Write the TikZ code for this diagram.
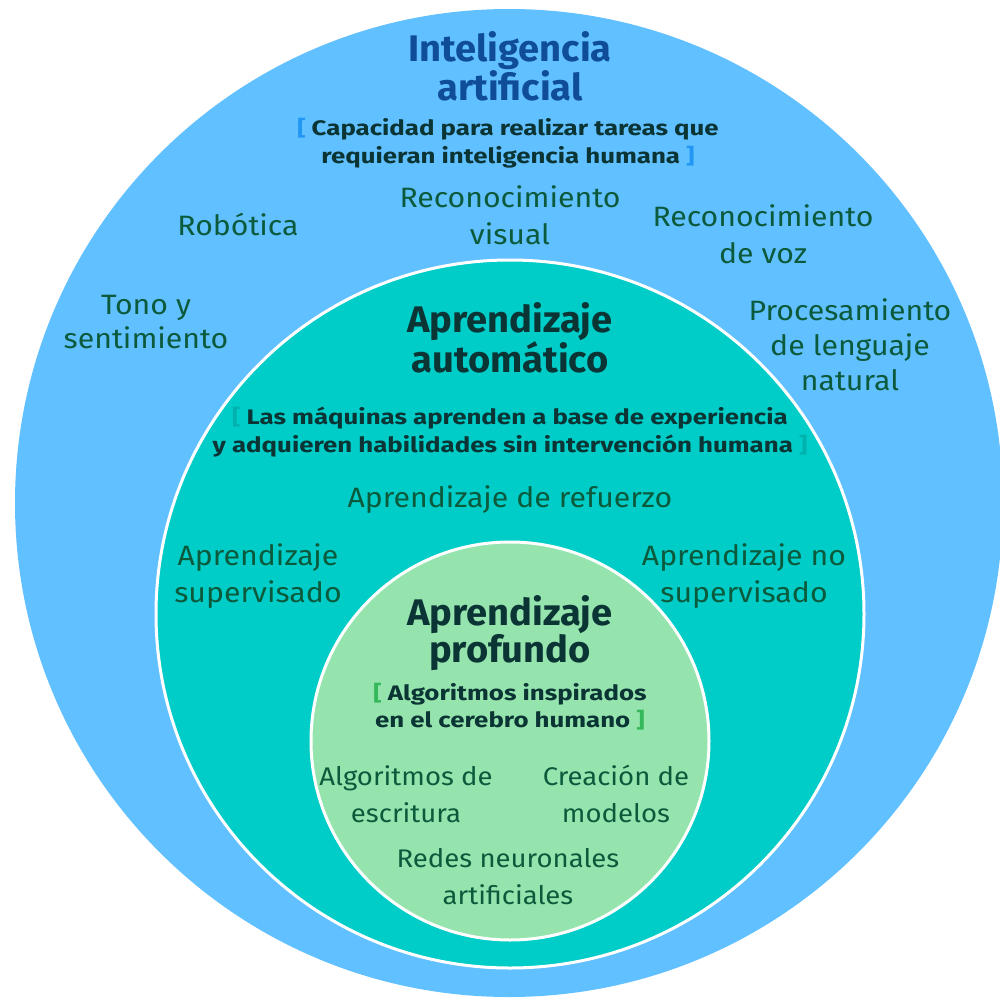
\documentclass[tikz,border=0pt]{standalone}
\usepackage{fontspec}
\setmainfont{Fira Sans}[FakeStretch=1.08]
\newfontfamily\headfont{Fira Sans Bold}[FakeStretch=1.03]
\newfontfamily\subfont{Fira Sans Bold}[FakeStretch=1.23]
\definecolor{outerblue}{HTML}{61C0FF}
\definecolor{midteal}{HTML}{00CCC8}
\definecolor{innergreen}{HTML}{95E4AE}
\definecolor{iablue}{HTML}{0F4C9A}
\definecolor{darktxt}{HTML}{0B3434}
\definecolor{greentxt}{HTML}{0C5A3C}
\definecolor{brblue}{HTML}{2196F3}
\definecolor{brteal}{HTML}{00B2AE}
\definecolor{brgreen}{HTML}{34B85A}
\tikzset{
  plain/.style={align=center, text=greentxt, inner sep=0pt, font=\fontsize{28}{37}\selectfont},
  small/.style={plain, font=\fontsize{25.5}{37}\selectfont},
  head/.style={align=center, inner sep=0pt, font=\headfont\fontsize{37}{37}\selectfont},
  sub/.style={align=center, text=darktxt, inner sep=0pt, font=\subfont\fontsize{21}{28}\selectfont}
}
\begin{document}
\begin{tikzpicture}[x=1pt,y=-1pt]
\useasboundingbox (0,0) rectangle (1000,1004);
\fill[white] (0,0) rectangle (1000,1004);
\fill[outerblue] (509,503) circle (494);
\draw[white, line width=3, fill=midteal] (510,614) circle (354);
\draw[white, line width=3, fill=innergreen] (510,741) circle (199);

% Outer circle
\node[head, text=iablue] (ia) at (510,66) {Inteligencia\\artificial};
\node[sub] (iasub) at (508,143) {\textcolor{brblue}{[} Capacidad para realizar tareas que\\requieran inteligencia humana \textcolor{brblue}{]}};
\node[plain] (rob) at (238,224) {Robótica};
\node[plain] (recvis) at (510,215) {Reconocimiento\\visual};
\node[plain] (recvoz) at (763,234) {Reconocimiento\\de voz};
\node[plain, font=\fontsize{28}{34}\selectfont] (tono) at (146,322) {Tono y\\sentimiento};
\node[plain, font=\fontsize{28}{35}\selectfont] (pln) at (850,345) {Procesamiento\\de lenguaje\\natural};

% Middle circle
\node[head, text=darktxt] (aa) at (510,338) {Aprendizaje\\automático};
\node[sub] (aasub) at (510,432) {\textcolor{brteal}{[} Las máquinas aprenden a base de experiencia\\y adquieren habilidades sin intervención humana \textcolor{brteal}{]}};
\node[plain] (ref) at (510,500) {Aprendizaje de refuerzo};
\node[plain] (sup) at (258,576) {Aprendizaje\\supervisado};
\node[plain] (nosup) at (744,576) {Aprendizaje no\\supervisado};

% Inner circle
\node[head, text=darktxt] (ap) at (510,633) {Aprendizaje\\profundo};
\node[sub, font=\subfont\fontsize{21}{27}\selectfont] (apsub) at (510,707) {\textcolor{brgreen}{[} Algoritmos inspirados\\en el cerebro humano \textcolor{brgreen}{]}};
\node[small] (alg) at (406,794) {Algoritmos de\\escritura};
\node[small] (crea) at (616,794) {Creación de\\modelos};
\node[small] (redes) at (508,877) {Redes neuronales\\artificiales};
\end{tikzpicture}
\end{document}
